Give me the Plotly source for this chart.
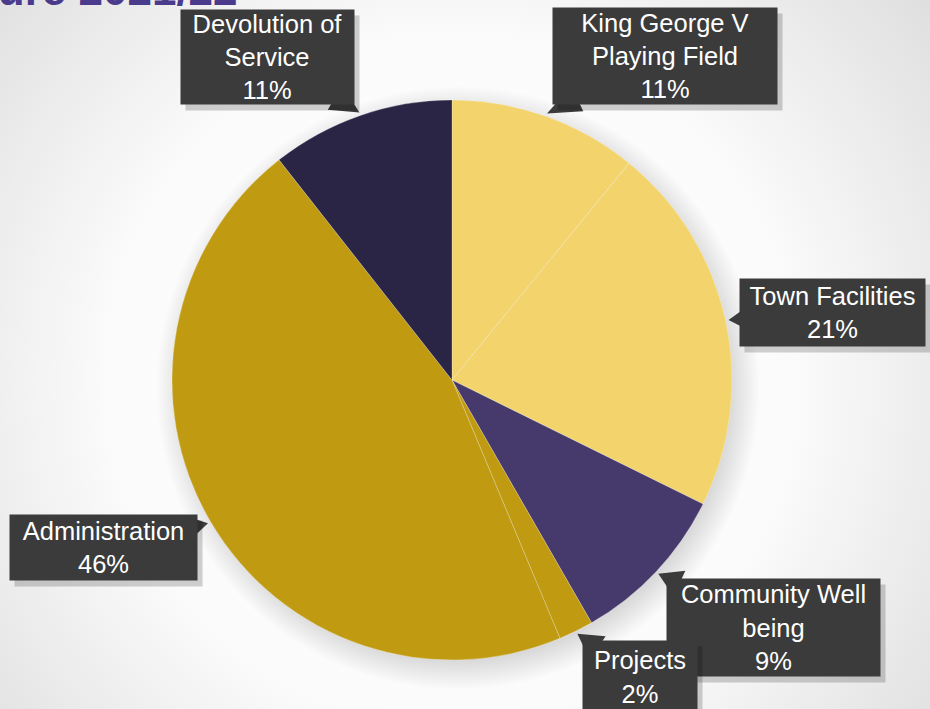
import base64, math
import plotly.graph_objects as go

# ---- data ----
labels = ["King George V<br>Playing Field", "Town Facilities", "Community Well<br>being",
          "Projects", "Administration", "Devolution of<br>Service"]
values = [10.9, 21.4, 9.4, 2.0, 45.7, 10.6]
pct_labels = ["11%", "21%", "9%", "2%", "46%", "11%"]
colors = ["#F2D36C", "#F2D36C", "#463A6C", "#C09A10", "#C09A10", "#2B2545"]

# ---- layout geometry (pixels) ----
W, H = 930, 709
CX, CY, R = 452, 380, 280
# callout boxes: centre x, centre y, width, height
boxes = [(665, 56, 224, 96), (832, 312, 185, 67), (773, 627, 213, 97),
         (640, 677, 114, 72), (103, 547, 187, 65), (267, 57, 173, 94)]

def px(x):
    return x / W

def py(y):
    return 1 - y / H

# background radial gradient
svg = f'''<svg xmlns="http://www.w3.org/2000/svg" width="{W}" height="{H}">
<defs><radialGradient id="g" cx="{CX}" cy="{CY}" r="620" gradientUnits="userSpaceOnUse">
<stop offset="0" stop-color="#ffffff"/><stop offset="0.55" stop-color="#fbfbfb"/>
<stop offset="1" stop-color="#dedede"/></radialGradient>
<radialGradient id="s" cx="{CX+6}" cy="{CY+8}" r="{R+22}" gradientUnits="userSpaceOnUse">
<stop offset="0.9" stop-color="#000" stop-opacity="0.14"/><stop offset="1" stop-color="#000" stop-opacity="0"/></radialGradient>
</defs>
<rect width="{W}" height="{H}" fill="url(#g)"/>
<circle cx="{CX+6}" cy="{CY+8}" r="{R+22}" fill="url(#s)"/>
</svg>'''
bg_src = "data:image/svg+xml;base64," + base64.b64encode(svg.encode()).decode()

fig = go.Figure()
fig.add_trace(go.Pie(
    labels=labels, values=values, sort=False, direction="clockwise", rotation=0,
    marker=dict(colors=colors, line=dict(color="rgba(255,255,255,0.35)", width=0.7)),
    textinfo="none", hoverinfo="label+percent", showlegend=False,
    domain=dict(x=[px(CX - R), px(CX + R)], y=[py(CY + R), py(CY - R)]),
))

annotations = []
shapes = []
total = sum(values)
cum = 0.0
for lab, v, pl, (bx, by, bw, bh) in zip(labels, values, pct_labels, boxes):
    theta = 2 * math.pi * (cum + v / 2) / total
    cum += v
    tx = CX + (R + 3) * math.sin(theta)
    ty = CY - (R + 3) * math.cos(theta)
    # wedge-shaped callout pointer: base just inside the box edge facing the slice
    dx, dy = tx - bx, ty - by
    L = math.hypot(dx, dy)
    ux, uy = dx / L, dy / L
    t_exit = min((bw / 2) / abs(dx) if dx else 1e9, (bh / 2) / abs(dy) if dy else 1e9)
    ex, ey = bx + dx * t_exit - ux * 12, by + dy * t_exit - uy * 12
    nx, ny = -uy * 14, ux * 14
    shapes.append(dict(
        type="path", xref="paper", yref="paper", layer="above",
        path=(f"M {px(tx)} {py(ty)} L {px(ex + nx)} {py(ey + ny)} "
              f"L {px(ex - nx)} {py(ey - ny)} Z"),
        fillcolor="#3b3b3b", line=dict(width=0)))
    # shadow
    annotations.append(dict(
        x=px(bx + 5), y=py(by + 6), xref="paper", yref="paper", showarrow=False,
        text="", width=bw, height=bh, bgcolor="rgba(0,0,0,0.18)", borderpad=0,
        xanchor="center", yanchor="middle"))
    annotations.append(dict(
        x=px(bx), y=py(by), xref="paper", yref="paper", showarrow=False,
        xanchor="center", yanchor="middle",
        text=f"{lab}<br>{pl}", width=bw, height=bh, borderpad=0,
        bgcolor="#3b3b3b", font=dict(family="Liberation Sans, Arial", size=25.5, color="#ffffff"),
        align="center", valign="middle"))

# title, cut off at the top edge
annotations.append(dict(
    x=px(240), y=py(16), xref="paper", yref="paper", showarrow=False,
    text="<b>Expenditure 2021/22</b>", xanchor="right", yanchor="bottom",
    font=dict(family="Liberation Sans, Arial", size=44, color="#4A3B8C")))

fig.update_layout(
    width=W, height=H, margin=dict(l=0, r=0, t=0, b=0),
    paper_bgcolor="#ececec", plot_bgcolor="#ececec",
    annotations=annotations, shapes=shapes,
    images=[dict(source=bg_src, xref="paper", yref="paper", x=0, y=1, sizex=1, sizey=1,
                 sizing="stretch", layer="below", xanchor="left", yanchor="top")],
)

fig.write_html("out.html", config={"displayModeBar": False},
               post_script="document.body.style.margin='0';")
